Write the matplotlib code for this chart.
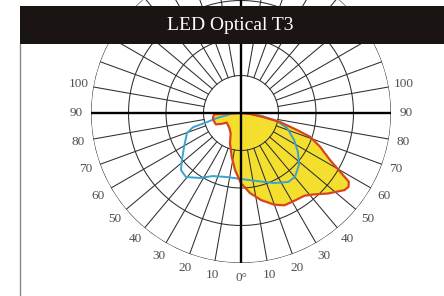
import numpy as np
import matplotlib
matplotlib.use("Agg")
import matplotlib.pyplot as plt
from matplotlib.lines import Line2D

# ---- data (angle from nadir in degrees, positive to the right; relative intensity, outer ring = 1) ----
title = "LED Optical T3"

red_angles = [-90, -87, -80, -76, -66, -61, -56, -45, -37, -27, -20, -12, -6, 0,
              6.4, 12.9, 19.9, 25.2, 31.5, 37.5, 42, 47.2, 53.3, 55.5, 57.5, 59.3,
              62.2, 66.9, 71, 73.1, 77, 79.7, 83.7, 90]
red_r = [0, 0.18, 0.19, 0.19, 0.185, 0.15, 0.115, 0.12, 0.128, 0.152, 0.215, 0.298, 0.382, 0.468,
         0.537, 0.595, 0.65, 0.68, 0.685, 0.695, 0.73, 0.79, 0.86, 0.87, 0.852, 0.77,
         0.67, 0.573, 0.486, 0.39, 0.267, 0.149, 0.06, 0]

blue_angles = [-90, -86, -78, -75, -73.5, -69.7, -59.2, -51.5, -46.5, -40.7, -32.2, -24, -12.3, 0,
               13.2, 25.2, 34.3, 40.2, 48.1, 55.6, 63, 71.9, 77.5, 81.9, 86, 90]
blue_r = [0, 0.06, 0.166, 0.235, 0.333, 0.384, 0.442, 0.503, 0.552, 0.563, 0.512, 0.46, 0.437, 0.44,
          0.466, 0.516, 0.557, 0.558, 0.519, 0.46, 0.397, 0.323, 0.246, 0.141, 0.06, 0]

ring_values = [0.25, 0.5, 0.75, 1.0]
label_angles = [10, 20, 30, 40, 50, 60, 70, 80, 90, 100]
label_texts = ["10", "20", "30", "40", "50", "60", "70", "80", "90", "100"]
zero_label = "0°"

# ---- figure ----
W, H = 444, 296
fig = plt.figure(figsize=(W / 100, H / 100), dpi=100)
fig.patch.set_facecolor("white")

cx, cy, R = 241, 113, 150
ax = fig.add_axes([(cx - R) / W, (H - (cy + R)) / H, 2 * R / W, 2 * R / H],
                  projection="polar")
ax.set_theta_zero_location("S")
ax.set_theta_direction(1)
ax.set_ylim(0, 1)
ax.set_axis_off()

grid_col = "#2e2e2e"
full = np.linspace(0, 2 * np.pi, 361)


def draw_grid(z):
    for rv in ring_values:
        ax.plot(full, np.full_like(full, rv), color=grid_col, lw=0.75, zorder=z)
    for deg in range(0, 360, 10):
        if deg % 90 == 0:
            continue
        t = np.deg2rad(deg)
        ax.plot([t, t], [ring_values[0], ring_values[-1]], color=grid_col, lw=0.75, zorder=z)


rt = np.deg2rad(red_angles)
bt = np.deg2rad(blue_angles)
ax.fill(rt, red_r, color="#f4df2e", zorder=3, lw=0)
draw_grid(4)

ax.plot(bt, blue_r, color="#3aa3cf", lw=1.4, zorder=5)
ax.plot(rt, red_r, color="#d9441c", lw=1.6, zorder=6)

# thick axes lines
for deg in (0, 90, 180, 270):
    t = np.deg2rad(deg)
    ax.plot([t, t], [0, 1], color="black", lw=1.7, zorder=7, solid_capstyle="butt")

# angle labels
lab_font = dict(family="Liberation Serif", size=9.5, color="#4d4d55",
                ha="center", va="center")
for a, s in zip(label_angles, label_texts):
    ax.text(np.deg2rad(a), 1.1, s, **lab_font)
    ax.text(np.deg2rad(-a), 1.1, s, **lab_font)
ax.text(0, 1.1, zero_label, **lab_font)

# title bar
tax = fig.add_axes([20 / W, (H - 44) / H, (W - 20) / W, 38 / H], zorder=10)
tax.set_facecolor("#1a1512")
tax.set_xticks([])
tax.set_yticks([])
for sp in tax.spines.values():
    sp.set_visible(False)
tax.text(0.495, 0.5, title, color="white", family="Liberation Serif", size=14,
         ha="center", va="center", transform=tax.transAxes)

# left border
fig.add_artist(Line2D([20 / W, 20 / W], [0, (H - 44) / H], color="#8a8a8a", lw=1.0))

fig.savefig("out.png", dpi=100)
